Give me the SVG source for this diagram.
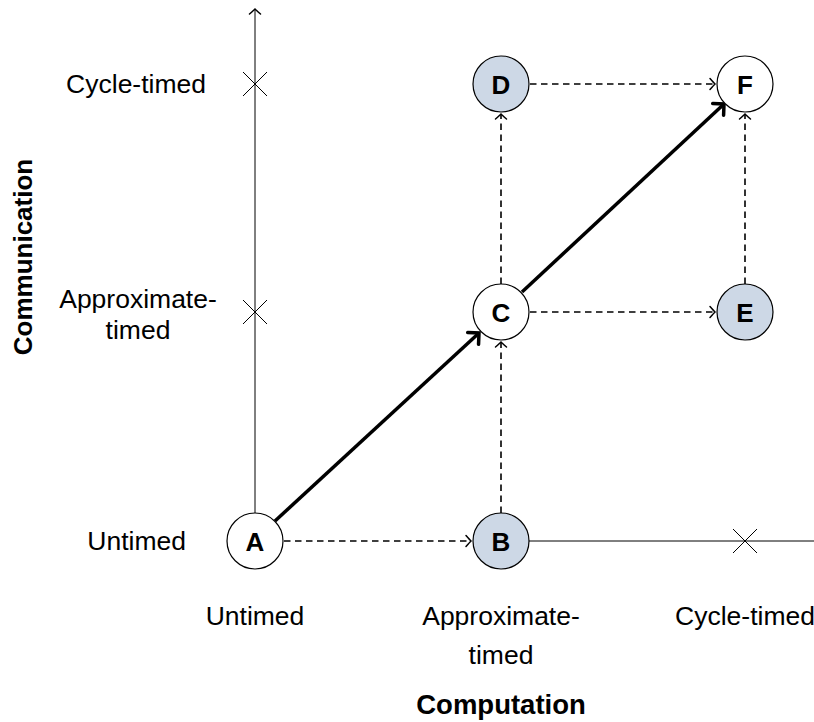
<svg xmlns="http://www.w3.org/2000/svg" width="814" height="722" viewBox="0 0 814 722">
  <style>
    .lbl { font-family: "Liberation Sans", Arial, sans-serif; font-size: 26.5px; fill: #000; }
    .ttl { font-family: "Liberation Sans", Arial, sans-serif; font-size: 27.5px; font-weight: bold; fill: #000; }
    .nd { stroke: #000; stroke-width: 1.2; }
    .plain { fill: #fff; }
    .shade { fill: #cdd8e6; }
    .nt { font-family: "Liberation Sans", Arial, sans-serif; font-size: 26px; font-weight: bold; text-anchor: middle; dominant-baseline: central; }
    .axis { stroke: #000; stroke-width: 1; fill: none; }
    .dash { stroke: #000; stroke-width: 1.6; stroke-dasharray: 6.5 4.5; fill: none; }
    .thick { stroke: #000; stroke-width: 3.5; fill: none; }
  </style>
  <defs>
    <marker id="to" viewBox="-8 -8 12 16" markerWidth="12" markerHeight="16" refX="0" refY="0" orient="auto" markerUnits="userSpaceOnUse">
      <path d="M -5 -5.5 Q -1 -1 0 0 Q -1 1 -5 5.5" fill="none" stroke="#000" stroke-width="1.5" stroke-linecap="round"/>
    </marker>
    <marker id="tothick" viewBox="-11 -11 15 22" markerWidth="15" markerHeight="22" refX="0" refY="0" orient="auto" markerUnits="userSpaceOnUse">
      <path d="M -8 -8 Q -1.5 -1.5 0 0 Q -1.5 1.5 -8 8" fill="none" stroke="#000" stroke-width="3.5" stroke-linecap="round"/>
    </marker>
  </defs>

  <!-- axes -->
  <g id="axes">
    <line class="axis" x1="255" y1="513" x2="255" y2="9" marker-end="url(#to)"/>
    <line class="axis" x1="529" y1="541" x2="814" y2="541"/>
    <path class="axis" d="M 243 72 L 267 96 M 267 72 L 243 96"/>
    <path class="axis" d="M 243 300 L 267 324 M 267 300 L 243 324"/>
    <path class="axis" d="M 733 529 L 757 553 M 757 529 L 733 553"/>
  </g>

  <!-- axis labels -->
  <g id="labels">
    <text class="lbl" x="206" y="93" text-anchor="end">Cycle-timed</text>
    <text class="lbl" x="138" y="308" text-anchor="middle">Approximate-</text>
    <text class="lbl" x="138" y="339" text-anchor="middle">timed</text>
    <text class="lbl" x="186" y="550" text-anchor="end">Untimed</text>
    <text class="lbl" x="255" y="625" text-anchor="middle">Untimed</text>
    <text class="lbl" x="501" y="625" text-anchor="middle">Approximate-</text>
    <text class="lbl" x="501" y="664" text-anchor="middle">timed</text>
    <text class="lbl" x="745" y="625" text-anchor="middle">Cycle-timed</text>
    <text class="ttl" x="501" y="714" text-anchor="middle">Computation</text>
    <text class="ttl" x="0" y="0" text-anchor="middle" style="font-size:26px" transform="translate(32 257) rotate(-90)">Communication</text>
  </g>

  <!-- connectors -->
  <g id="connectors">
    <line class="dash" x1="284" y1="541" x2="471" y2="541" marker-end="url(#to)"/>
    <line class="dash" x1="501" y1="513" x2="501" y2="342" marker-end="url(#to)"/>
    <line class="dash" x1="501" y1="284" x2="501" y2="114" marker-end="url(#to)"/>
    <line class="dash" x1="530" y1="312" x2="715" y2="312" marker-end="url(#to)"/>
    <line class="dash" x1="530" y1="84" x2="715" y2="84" marker-end="url(#to)"/>
    <line class="dash" x1="745" y1="284" x2="745" y2="114" marker-end="url(#to)"/>
    <line class="thick" x1="275" y1="521" x2="479" y2="333" marker-end="url(#tothick)"/>
    <line class="thick" x1="522" y1="292" x2="724" y2="104" marker-end="url(#tothick)"/>
  </g>

  <!-- nodes -->
  <g id="A"><circle class="nd plain" cx="255" cy="541" r="28"/><text class="nt" x="255" y="542">A</text></g>
  <g id="B"><circle class="nd shade" cx="501" cy="541" r="28"/><text class="nt" x="501" y="542">B</text></g>
  <g id="C"><circle class="nd plain" cx="501" cy="312" r="28"/><text class="nt" x="501" y="313">C</text></g>
  <g id="D"><circle class="nd shade" cx="501" cy="84" r="28"/><text class="nt" x="501" y="85">D</text></g>
  <g id="E"><circle class="nd shade" cx="745" cy="312" r="28"/><text class="nt" x="745" y="313">E</text></g>
  <g id="F"><circle class="nd plain" cx="745" cy="84" r="28"/><text class="nt" x="745" y="85">F</text></g>
</svg>
